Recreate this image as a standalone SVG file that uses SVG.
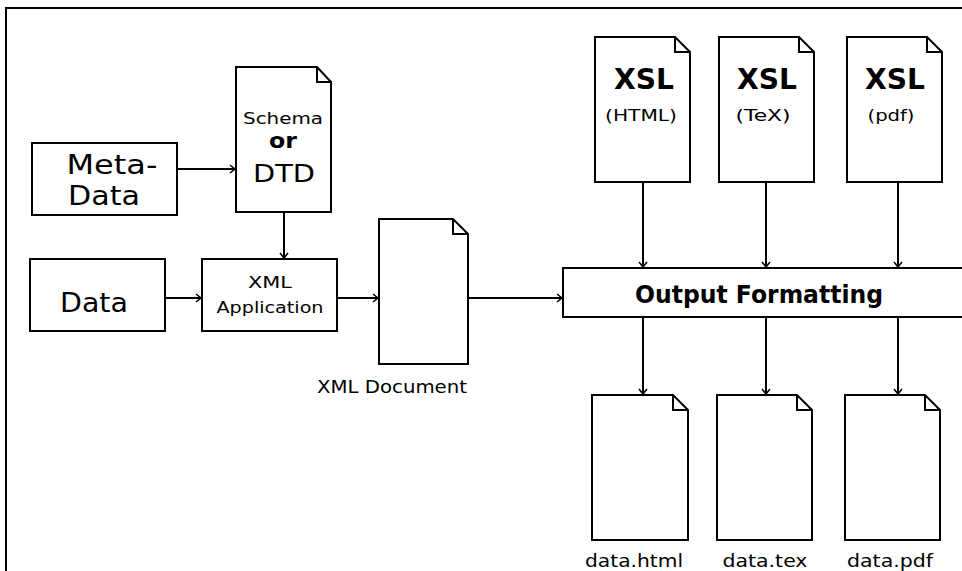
<svg xmlns="http://www.w3.org/2000/svg" width="962" height="571" viewBox="0 0 962 571">
<style>
.box{fill:#fff;stroke:#000;stroke-width:2}
.doc{fill:#fff;stroke:#000;stroke-width:2;stroke-linejoin:miter}
.con{fill:none;stroke:#000;stroke-width:2}
text{font-family:"DejaVu Sans","Liberation Sans",sans-serif;fill:#000;text-anchor:middle}
.big{font-size:26px}
.bold{font-weight:bold}
.small{font-size:16px}
</style>
<defs>
<marker id="arr" markerWidth="10" markerHeight="10" refX="8" refY="5" orient="auto" markerUnits="userSpaceOnUse">
<path d="M3,1 L8,5 L3,9" fill="none" stroke="#000" stroke-width="1.5"/>
</marker>
</defs>
<rect width="962" height="571" fill="#fff"/>
<path d="M6,571 V8 H962" fill="none" stroke="#000" stroke-width="2"/>

<g id="connectors">
<line class="con" x1="177" y1="169" x2="235" y2="169" marker-end="url(#arr)"/>
<line class="con" x1="284" y1="212" x2="284" y2="258" marker-end="url(#arr)"/>
<line class="con" x1="165" y1="298" x2="201" y2="298" marker-end="url(#arr)"/>
<line class="con" x1="337" y1="298" x2="378" y2="298" marker-end="url(#arr)"/>
<line class="con" x1="468" y1="298" x2="562" y2="298" marker-end="url(#arr)"/>
<line class="con" x1="643" y1="182" x2="643" y2="267" marker-end="url(#arr)"/>
<line class="con" x1="766" y1="182" x2="766" y2="267" marker-end="url(#arr)"/>
<line class="con" x1="898" y1="182" x2="898" y2="267" marker-end="url(#arr)"/>
<line class="con" x1="643" y1="317" x2="643" y2="394" marker-end="url(#arr)"/>
<line class="con" x1="766" y1="317" x2="766" y2="394" marker-end="url(#arr)"/>
<line class="con" x1="898" y1="317" x2="898" y2="394" marker-end="url(#arr)"/>
</g>

<g id="metadata">
<rect class="box" x="32" y="143" width="145" height="72"/>
<text class="big" x="112" y="174" textLength="91" lengthAdjust="spacingAndGlyphs">Meta-</text>
<text class="big" x="104" y="205" textLength="72" lengthAdjust="spacingAndGlyphs">Data</text>
</g>

<g id="schema">
<path class="doc" d="M236,67 H317 L331,82 V212 H236 Z M317,67 V82 H331"/>
<text class="small" x="283" y="124" textLength="80" lengthAdjust="spacingAndGlyphs">Schema</text>
<text x="283" y="148" font-size="21" font-weight="bold" textLength="28" lengthAdjust="spacingAndGlyphs">or</text>
<text x="284" y="182" font-size="24" textLength="62" lengthAdjust="spacingAndGlyphs">DTD</text>
</g>

<g id="data">
<rect class="box" x="30" y="259" width="135" height="72"/>
<text class="big" x="94" y="312" textLength="68" lengthAdjust="spacingAndGlyphs">Data</text>
</g>

<g id="xmlapp">
<rect class="box" x="202" y="259" width="135" height="72"/>
<text class="small" x="270" y="288" textLength="44" lengthAdjust="spacingAndGlyphs">XML</text>
<text class="small" x="270" y="313" textLength="107" lengthAdjust="spacingAndGlyphs">Application</text>
</g>

<g id="xmldoc">
<path class="doc" d="M379,219 H453 L468,234 V364 H379 Z M453,219 V234 H468"/>
<text x="392" y="393" font-size="17" textLength="150" lengthAdjust="spacingAndGlyphs">XML Document</text>
</g>

<g id="xsl-html">
<path class="doc" d="M595,37 H675 L690,52 V182 H595 Z M675,37 V52 H690"/>
<text class="bold" x="644" y="89" font-size="28" textLength="60" lengthAdjust="spacingAndGlyphs">XSL</text>
<text class="small" x="641" y="121" textLength="72" lengthAdjust="spacingAndGlyphs">(HTML)</text>
</g>
<g id="xsl-tex">
<path class="doc" d="M719,37 H799 L814,52 V182 H719 Z M799,37 V52 H814"/>
<text class="bold" x="767" y="89" font-size="28" textLength="60" lengthAdjust="spacingAndGlyphs">XSL</text>
<text class="small" x="763" y="121" textLength="55" lengthAdjust="spacingAndGlyphs">(TeX)</text>
</g>
<g id="xsl-pdf">
<path class="doc" d="M847,37 H927 L942,52 V182 H847 Z M927,37 V52 H942"/>
<text class="bold" x="895" y="89" font-size="28" textLength="60" lengthAdjust="spacingAndGlyphs">XSL</text>
<text class="small" x="891" y="121" textLength="47" lengthAdjust="spacingAndGlyphs">(pdf)</text>
</g>

<g id="output-formatting">
<rect class="box" x="563" y="268" width="420" height="49"/>
<text x="759" y="303" font-size="24" font-weight="bold" textLength="248" lengthAdjust="spacingAndGlyphs">Output Formatting</text>
</g>

<g id="data-html">
<path class="doc" d="M592,395 H673 L688,410 V540 H592 Z M673,395 V410 H688"/>
<text x="634" y="567" font-size="17" textLength="98" lengthAdjust="spacingAndGlyphs">data.html</text>
</g>
<g id="data-tex">
<path class="doc" d="M717,395 H797 L812,410 V540 H717 Z M797,395 V410 H812"/>
<text x="765" y="567" font-size="17" textLength="85" lengthAdjust="spacingAndGlyphs">data.tex</text>
</g>
<g id="data-pdf">
<path class="doc" d="M845,395 H925 L940,410 V540 H845 Z M925,395 V410 H940"/>
<text x="890" y="567" font-size="17" textLength="86" lengthAdjust="spacingAndGlyphs">data.pdf</text>
</g>
</svg>
